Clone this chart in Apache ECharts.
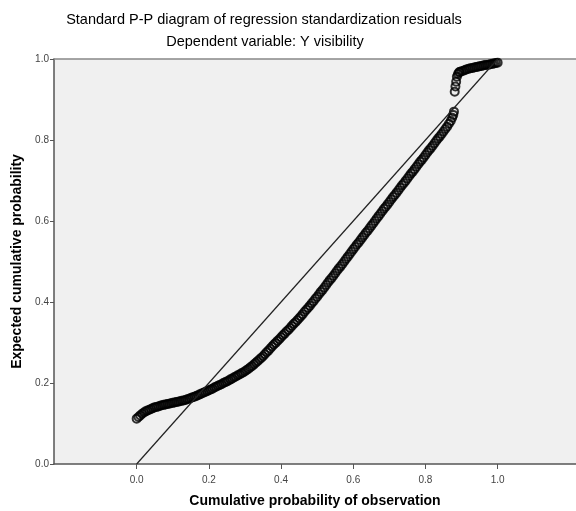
<!DOCTYPE html>
<html>
<head>
<meta charset="utf-8">
<script src="https://cdn.jsdelivr.net/npm/echarts@6/dist/echarts.min.js"></script>
<style>
  html, body { margin: 0; padding: 0; background: #ffffff; }
  #chart { width: 576px; height: 511px; }
</style>
</head>
<body>
<div id="chart"></div>
<script>
// Observed cumulative probability (x) of each standardized residual
var obsProb = [
  0.000, 0.005, 0.010, 0.015, 0.020, 0.025, 0.030, 0.035, 0.040, 0.045,
  0.050, 0.055, 0.060, 0.065, 0.070, 0.075, 0.080, 0.085, 0.090, 0.095,
  0.100, 0.105, 0.110, 0.115, 0.120, 0.125, 0.130, 0.135, 0.140, 0.145,
  0.150, 0.155, 0.160, 0.165, 0.170, 0.175, 0.180, 0.185, 0.190, 0.195,
  0.200, 0.205, 0.210, 0.215, 0.220, 0.225, 0.230, 0.235, 0.240, 0.245,
  0.250, 0.255, 0.260, 0.265, 0.270, 0.275, 0.280, 0.285, 0.290, 0.295,
  0.300, 0.305, 0.310, 0.315, 0.320, 0.325, 0.330, 0.335, 0.340, 0.345,
  0.350, 0.355, 0.360, 0.365, 0.370, 0.375, 0.380, 0.385, 0.390, 0.395,
  0.400, 0.405, 0.410, 0.415, 0.420, 0.425, 0.430, 0.435, 0.440, 0.445,
  0.450, 0.455, 0.460, 0.465, 0.470, 0.475, 0.480, 0.485, 0.490, 0.495,
  0.500, 0.505, 0.510, 0.515, 0.520, 0.525, 0.530, 0.535, 0.540, 0.545,
  0.550, 0.555, 0.560, 0.565, 0.570, 0.575, 0.580, 0.585, 0.590, 0.595,
  0.600, 0.605, 0.610, 0.615, 0.620, 0.625, 0.630, 0.635, 0.640, 0.645,
  0.650, 0.655, 0.660, 0.665, 0.670, 0.675, 0.680, 0.685, 0.690, 0.695,
  0.700, 0.705, 0.710, 0.715, 0.720, 0.725, 0.730, 0.735, 0.740, 0.745,
  0.750, 0.755, 0.760, 0.765, 0.770, 0.775, 0.780, 0.785, 0.790, 0.795,
  0.800, 0.805, 0.810, 0.815, 0.820, 0.825, 0.830, 0.835, 0.840, 0.845,
  0.850, 0.855, 0.860, 0.865, 0.870, 0.874, 0.877, 0.879,
  0.881, 0.883, 0.885, 0.887, 0.890, 0.893,
  0.895, 0.900, 0.905, 0.910, 0.915, 0.920, 0.925, 0.930, 0.935, 0.940,
  0.945, 0.950, 0.955, 0.960, 0.965, 0.970, 0.975, 0.980, 0.985, 0.990,
  0.995, 1.000
];

// Expected cumulative probability (y) under the normal distribution
var expProb = [
  0.112, 0.116, 0.120, 0.124, 0.127, 0.130, 0.132, 0.134, 0.136, 0.138,
  0.140, 0.141, 0.142, 0.144, 0.145, 0.146, 0.147, 0.148, 0.149, 0.150,
  0.151, 0.152, 0.153, 0.154, 0.155, 0.156, 0.157, 0.158, 0.160, 0.161,
  0.163, 0.165, 0.166, 0.168, 0.170, 0.172, 0.174, 0.176, 0.178, 0.180,
  0.182, 0.184, 0.186, 0.189, 0.191, 0.193, 0.195, 0.197, 0.200, 0.202,
  0.204, 0.206, 0.209, 0.211, 0.214, 0.216, 0.219, 0.221, 0.224, 0.226,
  0.229, 0.232, 0.235, 0.239, 0.242, 0.246, 0.250, 0.254, 0.258, 0.262,
  0.266, 0.271, 0.276, 0.280, 0.285, 0.290, 0.295, 0.299, 0.304, 0.308,
  0.313, 0.318, 0.322, 0.327, 0.331, 0.336, 0.341, 0.346, 0.350, 0.355,
  0.360, 0.365, 0.370, 0.376, 0.381, 0.386, 0.391, 0.397, 0.402, 0.408,
  0.413, 0.419, 0.425, 0.430, 0.436, 0.442, 0.448, 0.454, 0.459, 0.465,
  0.471, 0.477, 0.483, 0.488, 0.494, 0.500, 0.506, 0.512, 0.518, 0.524,
  0.530, 0.536, 0.542, 0.547, 0.553, 0.559, 0.565, 0.571, 0.576, 0.582,
  0.588, 0.594, 0.600, 0.606, 0.612, 0.618, 0.624, 0.630, 0.635, 0.641,
  0.647, 0.653, 0.659, 0.664, 0.670, 0.676, 0.682, 0.688, 0.693, 0.699,
  0.705, 0.711, 0.717, 0.722, 0.728, 0.734, 0.740, 0.746, 0.751, 0.757,
  0.763, 0.769, 0.775, 0.780, 0.786, 0.792, 0.798, 0.804, 0.809, 0.815,
  0.821, 0.827, 0.833, 0.840, 0.847, 0.855, 0.862, 0.870,
  0.919, 0.932, 0.944, 0.956, 0.963, 0.967,
  0.968, 0.970, 0.971, 0.973, 0.975, 0.976, 0.977, 0.978, 0.979, 0.980,
  0.981, 0.982, 0.983, 0.984, 0.985, 0.985, 0.986, 0.987, 0.988, 0.989,
  0.990, 0.991
];

// Reference line of a perfectly normal fit
var refLineX = [0, 1];
var refLineY = [0, 1];

// Tick positions shown on the axes
var xTicks = [0.0, 0.2, 0.4, 0.6, 0.8, 1.0];

var titleText = 'Standard P-P diagram of regression standardization residuals';
var subtitleText = 'Dependent variable: Y visibility';
var xName = 'Cumulative probability of observation';
var yName = 'Expected cumulative probability';

var points = obsProb.map(function (x, i) { return [x, expProb[i]]; });
var refLine = refLineX.map(function (x, i) { return [x, refLineY[i]]; });

var chart = echarts.init(document.getElementById('chart'), null, { renderer: 'canvas' });

var fontFamily = 'Liberation Sans, Arial, sans-serif';
var axisColor = '#555555';

chart.setOption({
  animation: false,
  backgroundColor: '#ffffff',
  graphic: [
    {
      type: 'text',
      position: [264, 12],
      style: { text: titleText, align: 'center', font: '14.5px ' + fontFamily, fill: '#000000' }
    },
    {
      type: 'text',
      position: [265, 34],
      style: { text: subtitleText, align: 'center', font: '14.5px ' + fontFamily, fill: '#000000' }
    }
  ],
  grid: { left: 54, right: 0, top: 59, bottom: 47, outerBoundsMode: 'none', containLabel: false },
  xAxis: [
    {
      type: 'value',
      min: -0.229,
      max: 1.217,
      position: 'bottom',
      name: xName,
      nameLocation: 'middle',
      nameGap: 30,
      nameTextStyle: { fontFamily: fontFamily, fontSize: 14, fontWeight: 'bold', color: '#000' },
      axisLine: { show: true, onZero: false, lineStyle: { color: axisColor, width: 1.5 } },
      axisTick: { show: true, customValues: xTicks, length: 5, lineStyle: { color: axisColor, width: 1 } },
      axisLabel: {
        customValues: xTicks,
        formatter: function (v) { return v.toFixed(1); },
        fontFamily: fontFamily, fontSize: 10, color: '#444', margin: 11
      },
      splitLine: { show: false }
    },
    {
      type: 'value',
      min: -0.229,
      max: 1.217,
      position: 'top',
      axisLine: { show: true, onZero: false, lineStyle: { color: '#888', width: 1.5 } },
      axisTick: { show: false },
      axisLabel: { show: false },
      splitLine: { show: false }
    }
  ],
  yAxis: {
    type: 'value',
    min: 0,
    max: 1,
    interval: 0.2,
    name: yName,
    nameLocation: 'middle',
    nameGap: 29,
    nameTextStyle: { fontFamily: fontFamily, fontSize: 14, fontWeight: 'bold', color: '#000' },
    axisLine: { show: true, onZero: false, lineStyle: { color: axisColor, width: 1.5 } },
    axisTick: { show: true, length: 4, lineStyle: { color: axisColor, width: 1 } },
    axisLabel: {
      formatter: function (v) { return v.toFixed(1); },
      fontFamily: fontFamily, fontSize: 10, color: '#444', margin: 5
    },
    splitLine: { show: false },
    splitArea: { show: true, areaStyle: { color: ['#f0f0f0'] } }
  },
  series: [
    {
      type: 'line',
      data: refLine,
      showSymbol: false,
      silent: true,
      lineStyle: { color: '#222', width: 1.2 },
      z: 3
    },
    {
      type: 'scatter',
      data: points,
      symbol: 'circle',
      symbolSize: 8,
      itemStyle: { color: 'rgba(0,0,0,0)', borderColor: '#000', borderWidth: 2 },
      z: 2
    }
  ]
});
</script>
</body>
</html>
